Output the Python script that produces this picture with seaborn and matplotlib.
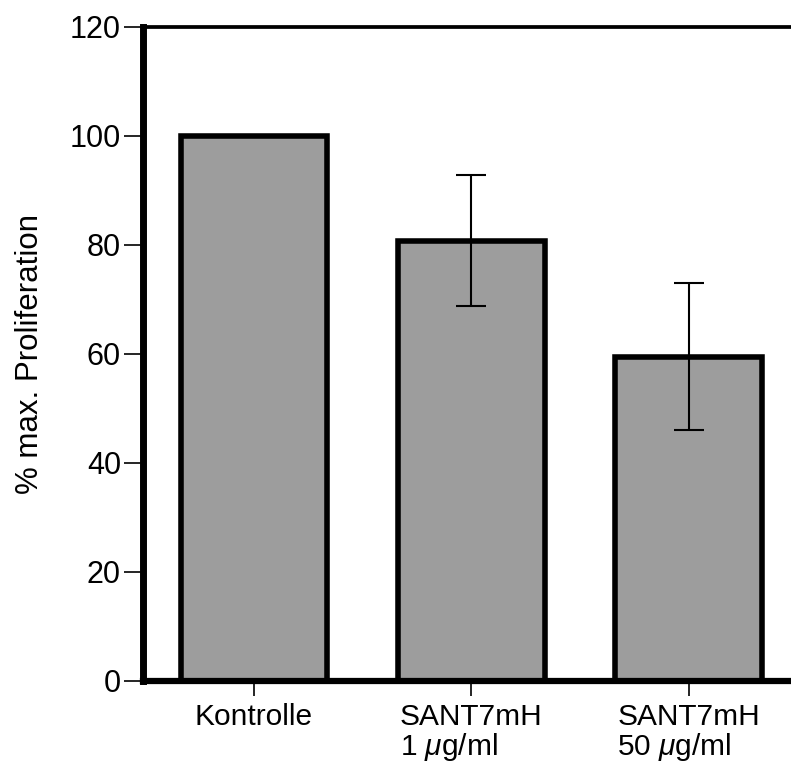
import matplotlib
matplotlib.use("Agg")
import matplotlib.pyplot as plt
import seaborn as sns
import pandas as pd

categories = ["Kontrolle", "SANT7mH\n1 $\\mu$g/ml", "SANT7mH\n50 $\\mu$g/ml"]
proliferation = [100.0, 80.8, 59.5]
errors = [0.0, 12.0, 13.5]

sns.set_style("white")
plt.rcParams['font.family'] = ['Liberation Sans', 'DejaVu Sans']
plt.rcParams['mathtext.fontset'] = 'custom'
plt.rcParams['mathtext.rm'] = 'Liberation Sans'
plt.rcParams['mathtext.it'] = 'Liberation Sans:italic'
plt.rcParams['text.color'] = 'black'
plt.rcParams['axes.labelcolor'] = 'black'
plt.rcParams['xtick.color'] = 'black'
plt.rcParams['ytick.color'] = 'black'

df = pd.DataFrame({'group': categories, 'value': proliferation})

fig = plt.figure(figsize=(7.91, 7.70), dpi=100)
ax = fig.add_axes([0.181, 0.1156, 0.819, 0.8494])

sns.barplot(x='group', y='value', data=df, color='#9d9d9d', saturation=1,
            width=0.675, edgecolor='black', linewidth=4, errorbar=None, ax=ax,
            zorder=2)

xs = range(len(categories))
ax.errorbar([x for x, e in zip(xs, errors) if e > 0],
            [v for v, e in zip(proliferation, errors) if e > 0],
            yerr=[e for e in errors if e > 0], fmt='none', ecolor='black',
            elinewidth=1.5, capsize=11, capthick=1.5, zorder=3)

ax.set_ylim(0, 120)
ax.set_xlim(-0.51, 2.47)
ax.set_yticks(range(0, 121, 20))
ax.set_xlabel("")
ax.set_ylabel("% max. Proliferation", fontsize=22.5, labelpad=18)

ax.spines['left'].set_linewidth(5)
ax.spines['bottom'].set_linewidth(4.5)
ax.spines['top'].set_linewidth(2.7)
ax.spines['right'].set_visible(False)
for s in ['left', 'bottom', 'top']:
    ax.spines[s].set_color('black')

ax.tick_params(axis='y', direction='out', length=14, width=1.2, left=True,
               labelsize=22, pad=2)
ax.tick_params(axis='x', direction='out', length=11, width=1.2, bottom=True,
               labelsize=21.5, pad=5)
for lbl in ax.get_xticklabels():
    lbl.set_multialignment('left')
    lbl.set_linespacing(1.0)

fig.savefig("out.png", dpi=100)
